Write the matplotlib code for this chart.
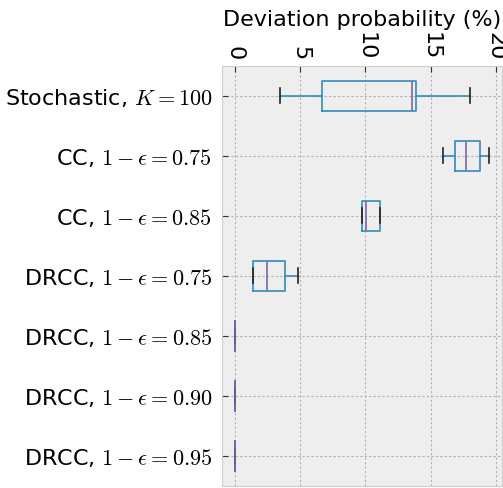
import matplotlib
matplotlib.use("Agg")
import matplotlib.pyplot as plt

plt.style.use('bmh')
plt.rcParams['mathtext.fontset'] = 'cm'

labels = ["Stochastic, $K=100$",
          "CC, $1-\\epsilon=0.75$",
          "CC, $1-\\epsilon=0.85$",
          "DRCC, $1-\\epsilon=0.75$",
          "DRCC, $1-\\epsilon=0.85$",
          "DRCC, $1-\\epsilon=0.90$",
          "DRCC, $1-\\epsilon=0.95$"]

# box statistics (%), one entry per method
whis_lo = [3.47, 15.95, 9.74, 1.42, 0.0, 0.0, 0.0]
q1      = [6.70, 16.85, 9.75, 1.42, 0.0, 0.0, 0.0]
median  = [13.55, 17.70, 10.05, 2.44, 0.0, 0.0, 0.0]
q3      = [13.87, 18.76, 11.12, 3.82, 0.0, 0.0, 0.0]
whis_hi = [18.00, 19.45, 11.12, 4.87, 0.0, 0.0, 0.0]
xticks = [0, 5, 10, 15, 20]

stats = []
for i in range(len(labels)):
    stats.append(dict(whislo=whis_lo[i], q1=q1[i], med=median[i],
                      q3=q3[i], whishi=whis_hi[i], fliers=[], label=labels[i]))
# top to bottom
stats = stats[::-1]

fig = plt.figure(figsize=(5.03, 4.88), dpi=100)
ax = fig.add_axes([0.4414, 0.004, 0.5566, 0.8614])

blue = '#348ABD'
ax.bxp(stats, vert=False, showfliers=False,
       boxprops=dict(color=blue, linewidth=1.2),
       whiskerprops=dict(color=blue, linewidth=1.2, linestyle='-'),
       capprops=dict(color='#222222', linewidth=1.2),
       medianprops=dict(color='#7A68A6', linewidth=1.2))

ax.set_xlim(-0.975, 20.475)
ax.set_xticks(xticks)
ax.grid(True, color='#b0b0b0', linestyle=(0, (2, 2)), linewidth=0.8)
for s in ax.spines.values():
    s.set_color('#cfcfcf')
ax.xaxis.tick_top()
ax.xaxis.set_label_position('top')
ax.tick_params(axis='both', direction='in', length=4, color='#333333')
ax.tick_params(axis='x', labelsize=16, pad=4)
ax.tick_params(axis='y', labelsize=16, pad=7)
for t in ax.get_xticklabels():
    t.set_rotation(-90)
ax.set_xlabel("Deviation probability (%)", fontsize=16, labelpad=4)

fig.savefig("out.png", dpi=100)
